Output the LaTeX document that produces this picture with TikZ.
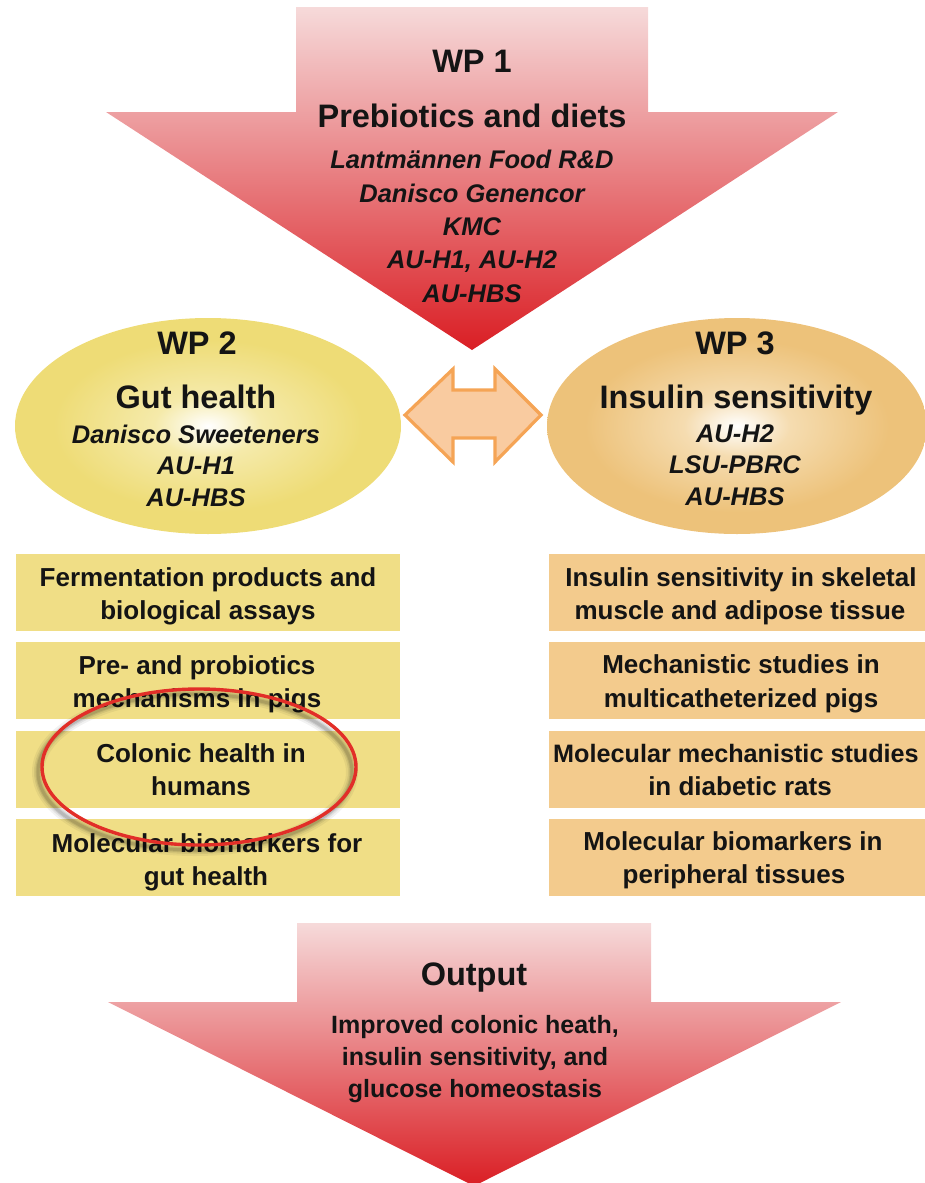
\documentclass[tikz,border=0pt]{standalone}
\usepackage{fontspec}
\setmainfont{Liberation Sans}
\usetikzlibrary{shapes.geometric,calc}

\definecolor{arrowtop}{RGB}{246,218,218}
\definecolor{arrowbot}{RGB}{218,30,36}
\definecolor{gutedge}{RGB}{238,220,118}
\definecolor{gutmid}{RGB}{245,234,170}
\definecolor{insedge}{RGB}{237,194,122}
\definecolor{insmid}{RGB}{245,220,176}
\definecolor{gutbox}{RGB}{240,222,134}
\definecolor{insbox}{RGB}{243,203,141}
\definecolor{linkfill}{RGB}{249,203,160}
\definecolor{linkdraw}{RGB}{245,164,85}
\definecolor{ringred}{RGB}{226,46,40}
\definecolor{ink}{RGB}{20,20,20}

% soft radial fills for the two work-package ellipses
\pgfdeclareradialshading{gutglow}{\pgfpoint{0bp}{0bp}}{color(0bp)=(white); color(7bp)=(gutmid); color(20bp)=(gutedge); color(25bp)=(gutedge); color(50bp)=(gutedge)}
\pgfdeclareradialshading{insglow}{\pgfpoint{0bp}{0bp}}{color(0bp)=(white); color(7bp)=(insmid); color(20bp)=(insedge); color(25bp)=(insedge); color(50bp)=(insedge)}

\newcommand{\headfont}{\bfseries\fontsize{32.5}{38}\selectfont}
\newcommand{\partnerfont}{\bfseries\itshape\fontsize{25.5}{30}\selectfont}
\newcommand{\taskfont}{\bfseries\fontsize{26}{32}\selectfont}
\newcommand{\outfont}{\bfseries\fontsize{25}{32}\selectfont}

\begin{document}
\begin{tikzpicture}[x=1pt,y=-1pt,
  head/.style={anchor=base,inner sep=0,text=ink,font=\headfont},
  partner/.style={anchor=base,inner sep=0,text=ink,font=\partnerfont},
  task/.style={anchor=base,inner sep=0,text=ink,font=\taskfont},
  outline/.style={anchor=base,inner sep=0,text=ink,font=\outfont},
  wpbubble/.style={ellipse,inner sep=0,minimum height=216},
  gutcell/.style={rectangle,fill=gutbox,inner sep=0,minimum width=384,minimum height=77},
  inscell/.style={rectangle,fill=insbox,inner sep=0,minimum width=384,minimum height=77},
  ringshape/.style={ellipse,inner sep=0,minimum width=314,minimum height=156},
]
\useasboundingbox (0,0) rectangle (924,1183);

% ---- WP 1 block arrow ----
\shade[top color=arrowtop,bottom color=arrowbot]
  (296,7) -- (648,7) -- (648,112) -- (838,112) -- (472,350) -- (106,112) -- (296,112) -- cycle;
\node[head] (wp1id) at (472,72) {WP 1};
\node[head] (wp1title) at (472,127) {Prebiotics and diets};
\node[partner] (wp1p1) at (472,168) {Lantmännen Food R\&D};
\node[partner] (wp1p2) at (472,202) {Danisco Genencor};
\node[partner] (wp1p3) at (472,235) {KMC};
\node[partner] (wp1p4) at (472,268) {AU-H1, AU-H2};
\node[partner] (wp1p5) at (472,302) {AU-HBS};

% ---- WP 2 and WP 3 ellipses ----
\node[wpbubble,shading=gutglow,minimum width=386] (wp2) at (208,426) {};
\node[wpbubble,shading=insglow,minimum width=380] (wp3) at (737,426) {};

\node[head] (wp2id) at (197,354) {WP 2};
\node[head] (wp2title) at (196,408) {Gut health};
\node[partner] (wp2p1) at (196,443) {Danisco Sweeteners};
\node[partner] (wp2p2) at (196,474) {AU-H1};
\node[partner] (wp2p3) at (196,506) {AU-HBS};

\node[head] (wp3id) at (735,354) {WP 3};
\node[head] (wp3title) at (736,408) {Insulin sensitivity};
\node[partner] (wp3p1) at (735,442) {AU-H2};
\node[partner] (wp3p2) at (735,473) {LSU-PBRC};
\node[partner] (wp3p3) at (735,505) {AU-HBS};

% ---- two-way link between WP 2 and WP 3 ----
\coordinate (linkL) at (405,415);
\coordinate (linkR) at (541,415);
\draw[fill=linkfill,draw=linkdraw,line width=3.2,line join=miter]
  (linkL) -- ($(linkL)+(48,-46)$) -- ($(linkL)+(48,-25)$) -- ($(linkR)+(-46,-25)$)
  -- ($(linkR)+(-46,-46)$) -- (linkR) -- ($(linkR)+(-46,47)$) -- ($(linkR)+(-46,23)$)
  -- ($(linkL)+(48,23)$) -- ($(linkL)+(48,47)$) -- cycle;

% ---- WP 2 tasks ----
\node[gutcell] (g1) at (208,592) {};
\node[gutcell] (g2) at (208,680) {};
\node[gutcell] (g3) at (208,769) {};
\node[gutcell] (g4) at (208,857) {};
\node[task] (g1a) at (208,586) {Fermentation products and};
\node[task] (g1b) at (208,619) {biological assays};
\node[task] (g2a) at (197,674) {Pre- and probiotics};
\node[task] (g2b) at (197,707) {mechanisms in pigs};
\node[task] (g3a) at (201,762) {Colonic health in};
\node[task] (g3b) at (201,795) {humans};
\node[task] (g4a) at (207,852) {Molecular biomarkers for};
\node[task] (g4b) at (206,885) {gut health};

% ---- WP 3 tasks ----
\node[inscell] (i1) at (741,592) {};
\node[inscell] (i2) at (741,680) {};
\node[inscell] (i3) at (741,769) {};
\node[inscell] (i4) at (741,857) {};
\node[task] (i1a) at (741,586) {Insulin sensitivity in skeletal};
\node[task] (i1b) at (740,619) {muscle and adipose tissue};
\node[task] (i2a) at (741,673) {Mechanistic studies in};
\node[task] (i2b) at (741,707) {multicatheterized pigs};
\node[task,font=\bfseries\fontsize{25.2}{32}\selectfont] (i3a) at (736,762) {Molecular mechanistic studies};
\node[task] (i3b) at (740,795) {in diabetic rats};
\node[task] (i4a) at (733,850) {Molecular biomarkers in};
\node[task] (i4b) at (734,883) {peripheral tissues};

% ---- highlight ring round the human study, with a soft shadow ----
\foreach \w/\o in {12/0.05,8/0.07,5/0.09,3/0.1}
  \node[ringshape,draw=black,draw opacity=\o,line width=\w] at (195,772) {};
\node[ringshape,draw=ringred,line width=3.4] (ring) at (199,767) {};

% ---- output block arrow ----
\shade[top color=arrowtop,bottom color=arrowbot]
  (297,923) -- (651,923) -- (651,1002) -- (841,1002) -- (474,1186) -- (108,1002) -- (297,1002) -- cycle;
\node[head] (outtitle) at (474,985) {Output};
\node[outline] (out1) at (475,1033) {Improved colonic heath,};
\node[outline] (out2) at (475,1065) {insulin sensitivity, and};
\node[outline] (out3) at (475,1097) {glucose homeostasis};
\end{tikzpicture}
\end{document}
